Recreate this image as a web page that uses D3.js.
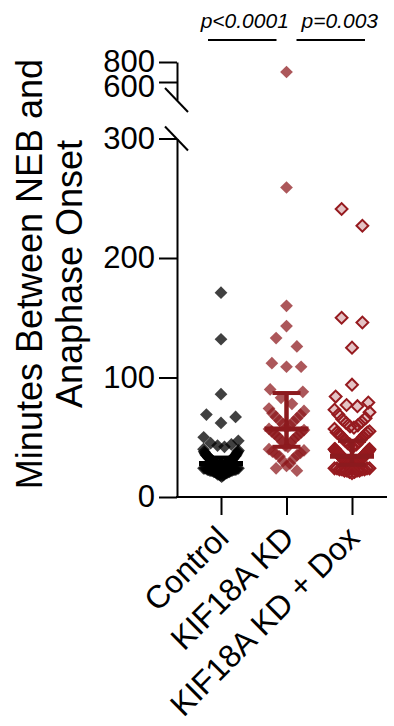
<!DOCTYPE html>
<html>
<head>
<meta charset="utf-8">
<script src="https://cdn.jsdelivr.net/npm/d3@7"></script>
<style>
  html, body { margin: 0; padding: 0; background: #fff; }
  svg { display: block; }
  text { font-family: "Liberation Sans", Arial, Helvetica, sans-serif; }
</style>
</head>
<body>
<svg id="chart" width="394" height="726"></svg>
<script>
const groups = ["Control", "KIF18A KD", "KIF18A KD + Dox"];

const controlValues = [
    17, 18, 18, 19, 19, 19, 20, 20, 20, 21, 21, 21, 21, 22, 22, 22, 22, 22, 23, 23, 23, 23, 23, 24, 24, 24, 24, 24,
    25, 25, 25, 25, 26, 26, 26, 26, 26, 27, 27, 27, 27, 27, 28, 28, 28, 28, 28, 29, 29, 29, 29, 29, 30, 30, 30, 30,
    31, 31, 31, 31, 32, 32, 32, 32, 33, 33, 33, 34, 34, 34, 35, 35, 35, 36, 36, 37, 37, 38, 38, 39, 40,
    42, 43, 44, 45, 47, 50,
    62, 67, 69, 86, 132, 171
];
const kdValues = [
    700, 259, 160, 143, 133, 126, 112, 109, 109, 90, 88, 83, 78,
    74, 72, 70, 69, 67, 66, 64, 63, 61, 60, 58,
    57, 56, 55, 54, 53, 52, 51, 50, 49, 48, 46, 45, 43, 42,
    40, 39, 38, 37, 36, 35, 34, 32, 30, 28, 26,
    24, 22
];
const doxValues = [
    241, 227, 150, 146, 125, 94,
    84, 79, 77, 76,
    73, 71, 69, 66, 65, 63, 62, 60, 59, 58,
    57, 55, 54, 54, 53, 52, 51, 50, 49, 48, 47, 46, 45, 44, 44, 43, 42,
    40, 40, 40, 39, 39, 39, 38, 38, 38, 37, 37, 37, 37, 36, 36, 36, 36, 35, 35, 35, 35, 34, 34, 34, 34,
    33, 33, 33, 33, 32, 32, 32, 32, 31, 31, 31, 31, 30, 30, 30, 30, 30, 29, 29, 29, 29, 28, 28, 28, 28,
    27, 27, 27, 27, 26, 26, 26, 26, 25, 25, 25, 25,
    24, 24, 24, 24, 23, 23, 23, 23, 22, 22, 22, 22, 21, 21, 20
];

// median with interquartile range, as drawn
const medians = [28, 57, 34];
const lowerQ = [24, 42, 27];
const upperQ = [33, 87, 47];

const lowTicks = [0, 100, 200, 300];
const highTicks = [600, 800];
const comparisons = [
    { from: "Control", to: "KIF18A KD", label: "p<0.0001" },
    { from: "KIF18A KD", to: "KIF18A KD + Dox", label: "p=0.003" }
];

const svg = d3.select("#chart");
const axisX = 177;
const baseY = 497;

const x = d3.scalePoint().domain(groups).range([221, 352]);
const yLow = d3.scaleLinear().domain([0, 300]).range([baseY, 138.5]);
const yHigh = d3.scaleLinear().domain([420, 800]).range([100, 62]);
const yOf = v => v > 300 ? yHigh(v) : yLow(v);

// Prism-like scatter: rows of points, spread from the centre outwards
function swarm(values) {
    const pts = values.map(v => ({ v, y: yOf(v), dx: 0 }));
    const bins = d3.group(pts, p => Math.floor((p.y - 8) / 20));
    bins.forEach(bin => {
        bin.sort((a, b) => a.v - b.v);
        const n = bin.length;
        const w = 35 * (1 - Math.exp(-0.9 * (n - 1)));
        const s = n > 1 ? w / (n - 1) : 0;
        bin.forEach((p, i) => {
            let k;
            if (n % 2) k = i === 0 ? 0 : Math.ceil(i / 2) * (i % 2 ? 1 : -1);
            else k = (Math.floor(i / 2) + 0.5) * (i % 2 ? -1 : 1);
            p.dx = k * s;
        });
    });
    return pts;
}

const series = [
    { name: groups[0], values: controlValues, fill: "rgba(0,0,0,0.75)", stroke: "none", size: 81 },
    { name: groups[1], values: kdValues, fill: "rgba(140,22,27,0.72)", stroke: "none", size: 81 },
    { name: groups[2], values: doxValues, fill: "rgba(150,25,30,0.26)", stroke: "#961a1f", size: 70 }
];
const barColors = ["#000", "#8c1a1e", "#8c1a1e"];

// points
series.forEach(s => {
    svg.append("g")
        .selectAll("path")
        .data(swarm(s.values))
        .join("path")
        .attr("d", d3.symbol(d3.symbolSquare, s.size))
        .attr("transform", d => `translate(${x(s.name) + d.dx},${d.y}) rotate(45)`)
        .attr("fill", s.fill)
        .attr("stroke", s.stroke)
        .attr("stroke-width", 2);
});

// median + IQR
const bars = svg.append("g");
groups.forEach((g, i) => {
    const cx = x(g);
    bars.append("line")
        .attr("x1", cx).attr("x2", cx)
        .attr("y1", yLow(lowerQ[i])).attr("y2", yLow(upperQ[i]))
        .attr("stroke", barColors[i]).attr("stroke-width", 4.5);
    [lowerQ[i], upperQ[i]].forEach(q => {
        bars.append("line")
            .attr("x1", cx - 14).attr("x2", cx + 14)
            .attr("y1", yLow(q)).attr("y2", yLow(q))
            .attr("stroke", barColors[i]).attr("stroke-width", 4);
    });
    bars.append("line")
        .attr("x1", cx - 22).attr("x2", cx + 22)
        .attr("y1", yLow(medians[i])).attr("y2", yLow(medians[i]))
        .attr("stroke", barColors[i]).attr("stroke-width", 5);
});

// y axes (broken)
function styleAxis(g) {
    g.selectAll("path, line").attr("stroke", "#000").attr("stroke-width", 2);
    g.selectAll("text").attr("font-size", "31px").attr("font-family", "'Liberation Sans', Arial, sans-serif");
}
svg.append("g")
    .attr("transform", `translate(${axisX},0)`)
    .call(d3.axisLeft(yLow).tickValues(lowTicks).tickSize(18).tickSizeOuter(0).tickPadding(4))
    .call(styleAxis);
const highAxis = svg.append("g")
    .attr("transform", `translate(${axisX},0)`)
    .call(d3.axisLeft(yHigh).tickValues(highTicks).tickSize(18).tickSizeOuter(0).tickPadding(4))
    .call(styleAxis);
highAxis.selectAll(".tick text").attr("dy", d => d === 600 ? "0.48em" : "0.3em");

// break marks
[yHigh(420), yLow(300)].forEach(yy => {
    svg.append("line")
        .attr("x1", axisX - 12).attr("y1", yy - 12)
        .attr("x2", axisX + 11).attr("y2", yy + 12)
        .attr("stroke", "#000").attr("stroke-width", 2);
});

// x axis
const xAxis = svg.append("g")
    .attr("transform", `translate(0,${baseY})`)
    .call(d3.axisBottom(x).tickSize(18).tickSizeOuter(0));
xAxis.select(".domain").remove();
xAxis.selectAll("line").attr("stroke", "#000").attr("stroke-width", 2);
xAxis.selectAll("text")
    .attr("font-size", "32px")
    .attr("text-anchor", "end")
    .attr("x", 0).attr("y", 0).attr("dy", "0.35em")
    .attr("transform", "translate(1,35) rotate(-45)");
svg.append("line")
    .attr("x1", axisX - 1).attr("x2", 387)
    .attr("y1", baseY).attr("y2", baseY)
    .attr("stroke", "#000").attr("stroke-width", 2);

// y title
const titleLines = ["Minutes Between NEB and", "Anaphase Onset"];
titleLines.forEach((t, i) => {
    svg.append("text")
        .attr("transform", `translate(${42 + i * 40},274) rotate(-90)`)
        .attr("text-anchor", "middle")
        .attr("font-size", "36px")
        .attr("fill", "#000")
        .text(t);
});

// significance
const offsets = [[-13, -10, 2.5], [10, 13, 9]];
comparisons.forEach((c, i) => {
    const x1 = x(c.from) + offsets[i][0];
    const x2 = x(c.to) + offsets[i][1];
    svg.append("line")
        .attr("x1", x1).attr("x2", x2)
        .attr("y1", 40).attr("y2", 40)
        .attr("stroke", "#000").attr("stroke-width", 1.8);
    svg.append("text")
        .attr("x", (x1 + x2) / 2 + offsets[i][2])
        .attr("y", 28)
        .attr("text-anchor", "middle")
        .attr("font-size", "21px")
        .attr("font-style", "italic")
        .attr("fill", "#000")
        .text(c.label);
});
</script>
</body>
</html>
